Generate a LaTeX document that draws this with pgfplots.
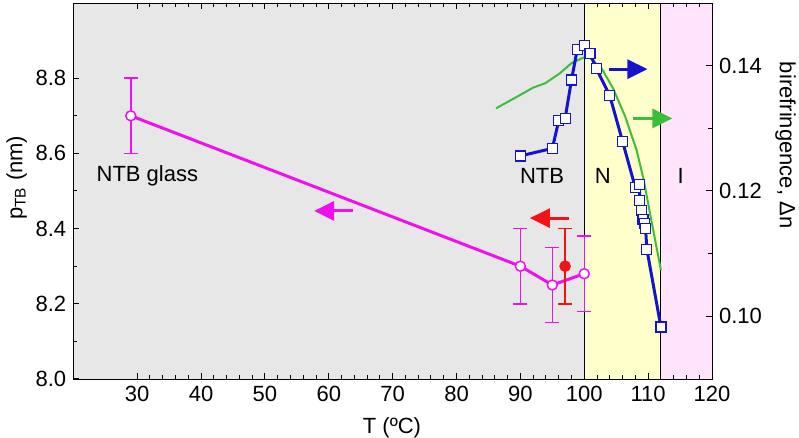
\documentclass[border=0pt]{standalone}
\usepackage{fontspec}
\setmainfont{Liberation Sans}
\usepackage{pgfplots}
\pgfplotsset{compat=1.18}
\usetikzlibrary{arrows.meta,calc}

\definecolor{bggray}{RGB}{231,231,231}
\definecolor{bgyellow}{RGB}{255,255,204}
\definecolor{bgpink}{RGB}{255,228,252}
\definecolor{mag}{RGB}{238,17,238}
\definecolor{bblue}{RGB}{20,20,204}
\definecolor{ggreen}{RGB}{60,190,60}
\definecolor{rred}{RGB}{240,20,20}

\pgfplotsset{
  common/.style={
    width=319.35pt, height=188pt, scale only axis,
    xmin=20, xmax=120,
    tick align=inside,
    major tick length=3pt, minor tick length=2pt,
    tick style={black, line width=0.5pt},
    tick label style={font=\fontsize{11}{13}\selectfont},
    label style={font=\fontsize{11}{13}\selectfont},
    /pgf/number format/assume math mode=true,
  },
}

\begin{document}
\begin{tikzpicture}[font=\fontsize{11}{13}\selectfont]
% left axis: p_TB
\begin{axis}[common,
    axis on top,
    ymin=8, ymax=9,
    xtick={30,40,...,120}, minor x tick num=4,
    ytick={8.0,8.2,8.4,8.6,8.8}, minor y tick num=1,
    ytick pos=left, xtick pos=both,
    yticklabel style={/pgf/number format/.cd, fixed, fixed zerofill, precision=1},
    xlabel={T (ºC)},
    xlabel style={at={(rel axis cs:0.499,-0.1303)}, anchor=center},
    ylabel={p\textsubscript{TB} (nm)},
    ylabel style={at={(rel axis cs:-0.0886,0.535)}, anchor=center},
]
\fill[bggray] (axis cs:20,8) rectangle (axis cs:100,9);
\fill[bgyellow] (axis cs:100,8) rectangle (axis cs:112,9);
\fill[bgpink] (axis cs:112,8) rectangle (axis cs:120,9);
\draw[black, line width=0.5pt] (axis cs:100,8) -- (axis cs:100,9);
\draw[black, line width=0.5pt] (axis cs:112,8) -- (axis cs:112,9);
\coordinate (sw) at (rel axis cs:0,0);
\coordinate (ne) at (rel axis cs:1,1);

\addplot[mag, line width=1.5pt, mark=*, mark size=2.5pt,
    mark options={fill=white, draw=mag, line width=0.75pt},
    error bars/.cd, y dir=both, y explicit,
    error bar style={line width=0.75pt, mag},
    error mark options={rotate=90, mark size=3.5pt, line width=0.75pt, mag}]
coordinates {
    (29,8.70) +- (0,0.10)
    (90,8.30) +- (0,0.10)
    (95,8.25) +- (0,0.10)
    (100,8.28) +- (0,0.10)
};
\addplot[rred, only marks, mark=*, mark size=2.7pt,
    error bars/.cd, y dir=both, y explicit,
    error bar style={line width=0.75pt, rred},
    error mark options={rotate=90, mark size=3.5pt, line width=0.75pt, rred}]
coordinates {
    (97,8.30) +- (0,0.10)
};

\draw[mag, line width=1.5pt, -{Triangle[length=10pt,width=9.5pt]}]
    (axis cs:63.8,8.447) -- (axis cs:57.7,8.447);
\draw[rred, line width=1.5pt, -{Triangle[length=10pt,width=9.5pt]}]
    (axis cs:97.6,8.428) -- (axis cs:91.5,8.428);
\draw[bblue, line width=1.5pt, -{Triangle[length=10pt,width=9.5pt]}]
    (axis cs:103.8,8.824) -- (axis cs:109.9,8.824);
\draw[ggreen, line width=1.5pt, -{Triangle[length=10pt,width=9.5pt]}]
    (axis cs:107.7,8.693) -- (axis cs:113.8,8.693);

\node at (axis cs:31.6,8.54) {NTB glass};
\node at (axis cs:93.4,8.54) {NTB};
\node at (axis cs:102.9,8.54) {N};
\node at (axis cs:115.1,8.54) {I};
\end{axis}

% right axis: birefringence
\begin{axis}[common,
    axis x line=none, axis y line*=right,
    y axis line style={-},
    ymin=0.09, ymax=0.15,
    ytick={0.10,0.12,0.14}, minor y tick num=1,
    yticklabel style={/pgf/number format/.cd, fixed, fixed zerofill, precision=2},
    ylabel={birefringence, Δn},
    ylabel style={at={(rel axis cs:1.1151,0.622)}, anchor=center, rotate=180},
]
\addplot[ggreen, line width=1pt, no marks] coordinates {
    (86.2,0.1332) (89.4,0.1350) (92.0,0.1365) (93.9,0.1372) (96.2,0.1388)
    (98.0,0.1404) (99.9,0.1413) (100.9,0.1412) (102.7,0.1396) (104.5,0.1364)
    (106.4,0.1319) (108.2,0.1265) (109.3,0.1218) (110.6,0.1148) (112.0,0.1074)
};
\addplot[bblue, line width=1.5pt, mark=square*, mark size=2.5pt,
    mark options={fill=white, draw=bblue, line width=0.6pt}] coordinates {
    (90.0,0.1256) (95.0,0.1268) (96.0,0.1312) (97.0,0.1316) (98.0,0.1377)
    (98.9,0.1426) (100.0,0.1432) (100.9,0.1420) (101.9,0.1395) (104.0,0.1352)
    (106.0,0.1279) (108.0,0.1205) (108.6,0.1210) (108.7,0.1185) (109.0,0.1169)
    (109.2,0.1155) (109.4,0.1148) (109.6,0.1140) (109.8,0.1107) (112.0,0.0983)
};
\end{axis}
\pgfresetboundingbox
\path ($(sw)+(-36.65pt,-29.5pt)$) rectangle ($(ne)+(43.5pt,1.5pt)$);
\end{tikzpicture}
\end{document}
